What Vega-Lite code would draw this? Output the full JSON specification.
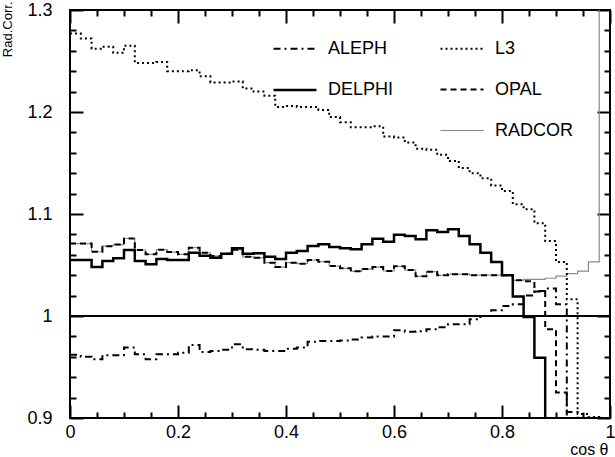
{
  "$schema": "https://vega.github.io/schema/vega-lite/v6.json",
  "width": 540,
  "height": 408,
  "autosize": "none",
  "padding": {"left": 70, "top": 10, "right": 5, "bottom": 39},
  "background": "white",
  "config": {
    "view": {"stroke": "black", "strokeWidth": 2},
    "font": "Liberation Sans",
    "axis": {"domain": false, "grid": false, "tickColor": "black", "tickWidth": 2, "labelColor": "black", "labelFont": "Liberation Sans", "labelFontSize": 18, "titleColor": "black", "titleFont": "Liberation Sans", "titleFontWeight": "normal", "titleFontSize": 18},
    "legend": {"orient": "none", "legendX": 202, "legendY": 16, "columns": 2, "columnPadding": 42, "rowPadding": 9, "padding": 0, "symbolType": "stroke", "symbolSize": 1849, "labelOffset": 10, "labelFont": "Liberation Sans", "labelFontSize": 18, "labelColor": "black", "labelLimit": 200}
  },
  "datasets": {
    "radcorr": [
      {"x": 0.00, "ALEPH": 0.962, "DELPHI": 1.055, "L3": 1.277, "OPAL": 1.071, "RADCOR": 1.071},
      {"x": 0.02, "ALEPH": 0.960, "DELPHI": 1.055, "L3": 1.272, "OPAL": 1.071, "RADCOR": 1.071},
      {"x": 0.04, "ALEPH": 0.9575, "DELPHI": 1.048, "L3": 1.262, "OPAL": 1.063, "RADCOR": 1.063},
      {"x": 0.06, "ALEPH": 0.9615, "DELPHI": 1.054, "L3": 1.264, "OPAL": 1.0685, "RADCOR": 1.0685},
      {"x": 0.08, "ALEPH": 0.9615, "DELPHI": 1.0565, "L3": 1.258, "OPAL": 1.070, "RADCOR": 1.070},
      {"x": 0.10, "ALEPH": 0.969, "DELPHI": 1.0647, "L3": 1.265, "OPAL": 1.076, "RADCOR": 1.076},
      {"x": 0.12, "ALEPH": 0.9624, "DELPHI": 1.054, "L3": 1.248, "OPAL": 1.0647, "RADCOR": 1.0647},
      {"x": 0.14, "ALEPH": 0.9575, "DELPHI": 1.0507, "L3": 1.248, "OPAL": 1.0605, "RADCOR": 1.0605},
      {"x": 0.16, "ALEPH": 0.9624, "DELPHI": 1.056, "L3": 1.249, "OPAL": 1.065, "RADCOR": 1.065},
      {"x": 0.18, "ALEPH": 0.9624, "DELPHI": 1.055, "L3": 1.240, "OPAL": 1.0627, "RADCOR": 1.0627},
      {"x": 0.20, "ALEPH": 0.964, "DELPHI": 1.055, "L3": 1.240, "OPAL": 1.0605, "RADCOR": 1.0605},
      {"x": 0.22, "ALEPH": 0.9716, "DELPHI": 1.062, "L3": 1.241, "OPAL": 1.067, "RADCOR": 1.067},
      {"x": 0.24, "ALEPH": 0.9647, "DELPHI": 1.059, "L3": 1.235, "OPAL": 1.062, "RADCOR": 1.062},
      {"x": 0.26, "ALEPH": 0.9657, "DELPHI": 1.057, "L3": 1.229, "OPAL": 1.0588, "RADCOR": 1.0588},
      {"x": 0.28, "ALEPH": 0.967, "DELPHI": 1.061, "L3": 1.229, "OPAL": 1.061, "RADCOR": 1.061},
      {"x": 0.30, "ALEPH": 0.9722, "DELPHI": 1.0663, "L3": 1.230, "OPAL": 1.065, "RADCOR": 1.065},
      {"x": 0.32, "ALEPH": 0.9673, "DELPHI": 1.061, "L3": 1.223, "OPAL": 1.058, "RADCOR": 1.058},
      {"x": 0.34, "ALEPH": 0.967, "DELPHI": 1.0614, "L3": 1.220, "OPAL": 1.057, "RADCOR": 1.057},
      {"x": 0.36, "ALEPH": 0.9657, "DELPHI": 1.058, "L3": 1.216, "OPAL": 1.0523, "RADCOR": 1.0523},
      {"x": 0.38, "ALEPH": 0.9657, "DELPHI": 1.056, "L3": 1.205, "OPAL": 1.048, "RADCOR": 1.048},
      {"x": 0.40, "ALEPH": 0.968, "DELPHI": 1.062, "L3": 1.206, "OPAL": 1.0523, "RADCOR": 1.0523},
      {"x": 0.42, "ALEPH": 0.969, "DELPHI": 1.0637, "L3": 1.205, "OPAL": 1.0513, "RADCOR": 1.0513},
      {"x": 0.44, "ALEPH": 0.9748, "DELPHI": 1.0686, "L3": 1.205, "OPAL": 1.0549, "RADCOR": 1.0549},
      {"x": 0.46, "ALEPH": 0.9755, "DELPHI": 1.0703, "L3": 1.202, "OPAL": 1.0533, "RADCOR": 1.0533},
      {"x": 0.48, "ALEPH": 0.9755, "DELPHI": 1.0676, "L3": 1.195, "OPAL": 1.049, "RADCOR": 1.049},
      {"x": 0.50, "ALEPH": 0.976, "DELPHI": 1.0663, "L3": 1.190, "OPAL": 1.0467, "RADCOR": 1.0467},
      {"x": 0.52, "ALEPH": 0.977, "DELPHI": 1.0654, "L3": 1.185, "OPAL": 1.0438, "RADCOR": 1.0438},
      {"x": 0.54, "ALEPH": 0.9788, "DELPHI": 1.0703, "L3": 1.185, "OPAL": 1.046, "RADCOR": 1.046},
      {"x": 0.56, "ALEPH": 0.980, "DELPHI": 1.0758, "L3": 1.186, "OPAL": 1.048, "RADCOR": 1.048},
      {"x": 0.58, "ALEPH": 0.980, "DELPHI": 1.0729, "L3": 1.176, "OPAL": 1.0441, "RADCOR": 1.0441},
      {"x": 0.60, "ALEPH": 0.986, "DELPHI": 1.0797, "L3": 1.175, "OPAL": 1.0487, "RADCOR": 1.0487},
      {"x": 0.62, "ALEPH": 0.9846, "DELPHI": 1.0784, "L3": 1.170, "OPAL": 1.045, "RADCOR": 1.045},
      {"x": 0.64, "ALEPH": 0.985, "DELPHI": 1.0752, "L3": 1.164, "OPAL": 1.0389, "RADCOR": 1.0389},
      {"x": 0.66, "ALEPH": 0.987, "DELPHI": 1.084, "L3": 1.163, "OPAL": 1.0435, "RADCOR": 1.0435},
      {"x": 0.68, "ALEPH": 0.989, "DELPHI": 1.0824, "L3": 1.158, "OPAL": 1.0399, "RADCOR": 1.0399},
      {"x": 0.70, "ALEPH": 0.9918, "DELPHI": 1.085, "L3": 1.152, "OPAL": 1.041, "RADCOR": 1.041},
      {"x": 0.72, "ALEPH": 0.992, "DELPHI": 1.0784, "L3": 1.145, "OPAL": 1.041, "RADCOR": 1.041},
      {"x": 0.74, "ALEPH": 0.9967, "DELPHI": 1.0703, "L3": 1.140, "OPAL": 1.040, "RADCOR": 1.040},
      {"x": 0.76, "ALEPH": 1.000, "DELPHI": 1.062, "L3": 1.135, "OPAL": 1.040, "RADCOR": 1.040},
      {"x": 0.78, "ALEPH": 1.0056, "DELPHI": 1.053, "L3": 1.128, "OPAL": 1.040, "RADCOR": 1.040},
      {"x": 0.80, "ALEPH": 1.0098, "DELPHI": 1.040, "L3": 1.1225, "OPAL": 1.040, "RADCOR": 1.040},
      {"x": 0.82, "ALEPH": 1.0114, "DELPHI": 1.019, "L3": 1.1095, "OPAL": 1.035, "RADCOR": 1.035},
      {"x": 0.84, "ALEPH": 1.020, "DELPHI": 0.999, "L3": 1.1046, "OPAL": 1.034, "RADCOR": 1.036},
      {"x": 0.86, "ALEPH": 1.0245, "DELPHI": 0.959, "L3": 1.091, "OPAL": 1.024, "RADCOR": 1.036},
      {"x": 0.88, "ALEPH": 1.027, "DELPHI": 0.85, "L3": 1.0735, "OPAL": 0.987, "RADCOR": 1.037},
      {"x": 0.90, "ALEPH": 1.0114, "DELPHI": 0.85, "L3": 1.053, "OPAL": 0.925, "RADCOR": 1.039},
      {"x": 0.92, "ALEPH": 0.906, "DELPHI": 0.85, "L3": 1.0163, "OPAL": 0.85, "RADCOR": 1.0415},
      {"x": 0.94, "ALEPH": 0.85, "DELPHI": 0.85, "L3": 0.904, "OPAL": 0.85, "RADCOR": 1.044},
      {"x": 0.96, "ALEPH": 0.85, "DELPHI": 0.85, "L3": 0.901, "OPAL": 0.85, "RADCOR": 1.053},
      {"x": 0.98, "ALEPH": 0.85, "DELPHI": 0.85, "L3": 0.85, "OPAL": 0.85, "RADCOR": 1.35},
      {"x": 1.00, "ALEPH": 0.85, "DELPHI": 0.85, "L3": 0.85, "OPAL": 0.85, "RADCOR": 1.35}
    ]
  },
  "data": {"name": "radcorr"},
  "transform": [{"fold": ["ALEPH", "DELPHI", "L3", "OPAL", "RADCOR"], "as": ["series", "value"]}],
  "resolve": {"axis": {"x": "independent", "y": "independent"}},
  "layer": [
    {
      "transform": [{"filter": "datum.series === 'RADCOR'"}],
      "mark": {"type": "line", "interpolate": "step-after", "clip": true},
      "encoding": {
        "x": {"field": "x", "type": "quantitative", "scale": {"domain": [0, 1]},
              "axis": {"orient": "bottom", "values": [0, 0.2, 0.4, 0.6, 0.8, 1], "format": "~g", "ticks": false, "labelPadding": 5, "labelFlush": false, "labelOverlap": false,
                       "title": "cos θ", "titleFontSize": 16, "titleAnchor": "end", "titleAlign": "right", "titleBaseline": "top", "titleX": 538, "titleY": 23}},
        "y": {"field": "value", "type": "quantitative", "scale": {"domain": [0.9, 1.3]},
              "axis": {"orient": "left", "values": [0.9, 1, 1.1, 1.2, 1.3], "format": "~g", "ticks": false, "labelPadding": 18, "labelFlush": false, "labelOverlap": false,
                       "title": "Rad.Corr.", "titleFontSize": 13, "titleAnchor": "end", "titleAngle": -90, "titleAlign": "right", "titleBaseline": "top", "titleX": -69, "titleY": -9}},
        "color": {"field": "series", "type": "nominal", "scale": {"domain": ["ALEPH", "DELPHI", " ", "L3", "OPAL", "RADCOR"], "range": ["black", "black", "white", "black", "black", "#8a8a8a"]}, "legend": {"title": null}},
        "strokeDash": {"field": "series", "type": "nominal", "scale": {"domain": ["ALEPH", "DELPHI", " ", "L3", "OPAL", "RADCOR"], "range": [[7, 4, 2, 4], [1, 0], [1, 0], [2, 3], [6, 4], [1, 0]]}, "legend": {"title": null}},
        "strokeWidth": {"field": "series", "type": "nominal", "scale": {"type": "ordinal", "domain": ["ALEPH", "DELPHI", " ", "L3", "OPAL", "RADCOR"], "range": [2, 2.5, 0, 2, 2, 1.2]}, "legend": {"title": null}}
      }
    },
    {
      "transform": [{"filter": "datum.series === 'L3'"}],
      "mark": {"type": "line", "interpolate": "step-after", "clip": true},
      "encoding": {
        "x": {"field": "x", "type": "quantitative", "scale": {"domain": [0, 1]},
              "axis": {"orient": "bottom", "values": [0, 0.2, 0.4, 0.6, 0.8, 1], "tickSize": -13, "labels": false, "title": null}},
        "y": {"field": "value", "type": "quantitative", "scale": {"domain": [0.9, 1.3]},
              "axis": {"orient": "left", "values": [0.9, 1, 1.1, 1.2, 1.3], "tickSize": -13, "labels": false, "title": null}},
        "color": {"field": "series", "type": "nominal", "scale": {"domain": ["ALEPH", "DELPHI", " ", "L3", "OPAL", "RADCOR"], "range": ["black", "black", "white", "black", "black", "#8a8a8a"]}, "legend": {"title": null}},
        "strokeDash": {"field": "series", "type": "nominal", "scale": {"domain": ["ALEPH", "DELPHI", " ", "L3", "OPAL", "RADCOR"], "range": [[7, 4, 2, 4], [1, 0], [1, 0], [2, 3], [6, 4], [1, 0]]}, "legend": {"title": null}},
        "strokeWidth": {"field": "series", "type": "nominal", "scale": {"type": "ordinal", "domain": ["ALEPH", "DELPHI", " ", "L3", "OPAL", "RADCOR"], "range": [2, 2.5, 0, 2, 2, 1.2]}, "legend": {"title": null}}
      }
    },
    {
      "transform": [{"filter": "datum.series === 'ALEPH'"}],
      "mark": {"type": "line", "interpolate": "step-after", "clip": true},
      "encoding": {
        "x": {"field": "x", "type": "quantitative", "scale": {"domain": [0, 1]},
              "axis": {"orient": "bottom", "values": [0.05, 0.1, 0.15, 0.25, 0.3, 0.35, 0.45, 0.5, 0.55, 0.65, 0.7, 0.75, 0.85, 0.9, 0.95], "tickSize": -6, "labels": false, "title": null}},
        "y": {"field": "value", "type": "quantitative", "scale": {"domain": [0.9, 1.3]},
              "axis": {"orient": "left", "values": [0.92, 0.94, 0.96, 0.98, 1.02, 1.04, 1.06, 1.08, 1.12, 1.14, 1.16, 1.18, 1.22, 1.24, 1.26, 1.28], "tickSize": -6, "labels": false, "title": null}},
        "color": {"field": "series", "type": "nominal", "scale": {"domain": ["ALEPH", "DELPHI", " ", "L3", "OPAL", "RADCOR"], "range": ["black", "black", "white", "black", "black", "#8a8a8a"]}, "legend": {"title": null}},
        "strokeDash": {"field": "series", "type": "nominal", "scale": {"domain": ["ALEPH", "DELPHI", " ", "L3", "OPAL", "RADCOR"], "range": [[7, 4, 2, 4], [1, 0], [1, 0], [2, 3], [6, 4], [1, 0]]}, "legend": {"title": null}},
        "strokeWidth": {"field": "series", "type": "nominal", "scale": {"type": "ordinal", "domain": ["ALEPH", "DELPHI", " ", "L3", "OPAL", "RADCOR"], "range": [2, 2.5, 0, 2, 2, 1.2]}, "legend": {"title": null}}
      }
    },
    {
      "transform": [{"filter": "datum.series === 'OPAL'"}],
      "mark": {"type": "line", "interpolate": "step-after", "clip": true},
      "encoding": {
        "x": {"field": "x", "type": "quantitative", "scale": {"domain": [0, 1]},
              "axis": {"orient": "top", "values": [0, 0.2, 0.4, 0.6, 0.8, 1], "tickSize": -13, "labels": false, "title": null}},
        "y": {"field": "value", "type": "quantitative", "scale": {"domain": [0.9, 1.3]},
              "axis": {"orient": "right", "values": [0.9, 1, 1.1, 1.2, 1.3], "tickSize": -13, "labels": false, "title": null}},
        "color": {"field": "series", "type": "nominal", "scale": {"domain": ["ALEPH", "DELPHI", " ", "L3", "OPAL", "RADCOR"], "range": ["black", "black", "white", "black", "black", "#8a8a8a"]}, "legend": {"title": null}},
        "strokeDash": {"field": "series", "type": "nominal", "scale": {"domain": ["ALEPH", "DELPHI", " ", "L3", "OPAL", "RADCOR"], "range": [[7, 4, 2, 4], [1, 0], [1, 0], [2, 3], [6, 4], [1, 0]]}, "legend": {"title": null}},
        "strokeWidth": {"field": "series", "type": "nominal", "scale": {"type": "ordinal", "domain": ["ALEPH", "DELPHI", " ", "L3", "OPAL", "RADCOR"], "range": [2, 2.5, 0, 2, 2, 1.2]}, "legend": {"title": null}}
      }
    },
    {
      "transform": [{"filter": "datum.series === 'DELPHI'"}],
      "mark": {"type": "line", "interpolate": "step-after", "clip": true},
      "encoding": {
        "x": {"field": "x", "type": "quantitative", "scale": {"domain": [0, 1]},
              "axis": {"orient": "top", "values": [0.05, 0.1, 0.15, 0.25, 0.3, 0.35, 0.45, 0.5, 0.55, 0.65, 0.7, 0.75, 0.85, 0.9, 0.95], "tickSize": -6, "labels": false, "title": null}},
        "y": {"field": "value", "type": "quantitative", "scale": {"domain": [0.9, 1.3]},
              "axis": {"orient": "right", "values": [0.92, 0.94, 0.96, 0.98, 1.02, 1.04, 1.06, 1.08, 1.12, 1.14, 1.16, 1.18, 1.22, 1.24, 1.26, 1.28], "tickSize": -6, "labels": false, "title": null}},
        "color": {"field": "series", "type": "nominal", "scale": {"domain": ["ALEPH", "DELPHI", " ", "L3", "OPAL", "RADCOR"], "range": ["black", "black", "white", "black", "black", "#8a8a8a"]}, "legend": {"title": null}},
        "strokeDash": {"field": "series", "type": "nominal", "scale": {"domain": ["ALEPH", "DELPHI", " ", "L3", "OPAL", "RADCOR"], "range": [[7, 4, 2, 4], [1, 0], [1, 0], [2, 3], [6, 4], [1, 0]]}, "legend": {"title": null}},
        "strokeWidth": {"field": "series", "type": "nominal", "scale": {"type": "ordinal", "domain": ["ALEPH", "DELPHI", " ", "L3", "OPAL", "RADCOR"], "range": [2, 2.5, 0, 2, 2, 1.2]}, "legend": {"title": null}}
      }
    },
    {
      "data": {"values": [{"ref": 1}]},
      "mark": {"type": "rule", "color": "black", "strokeWidth": 2},
      "encoding": {
        "y": {"field": "ref", "type": "quantitative", "axis": null}
      }
    }
  ]
}
